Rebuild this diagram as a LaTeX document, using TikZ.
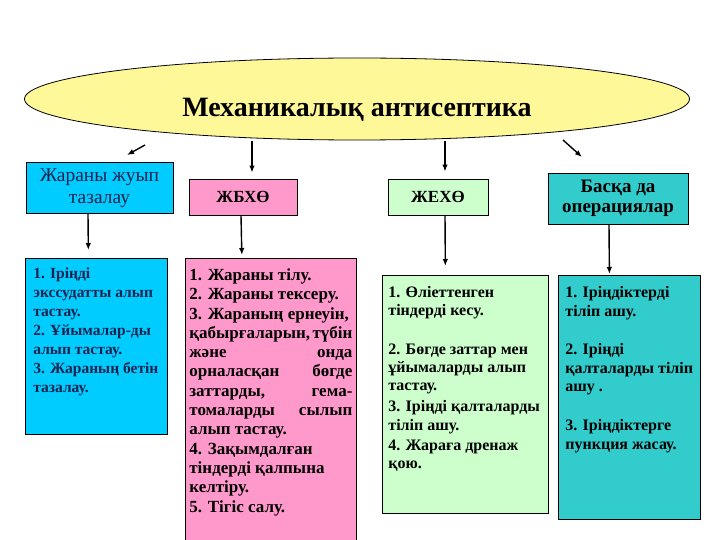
\documentclass[tikz,border=0pt]{standalone}
\usepackage{fontspec}
\setmainfont{Liberation Serif}
\usetikzlibrary{arrows.meta,shapes.geometric}
\definecolor{Oval}{RGB}{255,248,153}
\definecolor{Sky}{RGB}{0,204,255}
\definecolor{Rose}{RGB}{255,153,204}
\definecolor{Mint}{RGB}{204,255,204}
\definecolor{Teal}{RGB}{51,204,204}
\definecolor{Navy}{RGB}{25,35,80}
\newcommand{\boxlines}[3]{\parbox[t][#1][t]{#2}{#3}}
\tikzset{
  titleoval/.style={ellipse,draw,fill=Oval,line width=0.8pt,minimum width=665pt,minimum height=82pt,inner sep=0pt,font=\fontsize{28}{32}\selectfont\bfseries,text height=36pt,text depth=0pt},
  headbox/.style={draw,line width=0.8pt,align=center,inner sep=0pt,font=\fontsize{17}{20}\selectfont\bfseries},
  listbox/.style={draw,line width=0.8pt,anchor=north west,inner xsep=8pt,inner ysep=0pt,font=\fontsize{16}{18.3}\selectfont\bfseries},
  flow/.style={-{Latex[length=7pt,width=5.5pt]},line width=1.4pt}
}
\begin{document}
\begin{tikzpicture}[x=1pt,y=-1pt]
\useasboundingbox (0,0) rectangle (720,540);
\clip (0,0) rectangle (720,540);
% title
\node[titleoval] (title) at (357,99) {Механикалық антисептика};
% top row
\node[headbox,fill=Sky,text=Navy,minimum width=147pt,minimum height=51pt,font=\fontsize{19.5}{22}\selectfont] (wash) at (99.5,188) {Жараны жуып\\тазалау};
\node[headbox,fill=Rose,minimum width=108pt,minimum height=36pt] (bfx) at (243,197) {ЖБХӨ};
\node[headbox,fill=Mint,minimum width=100pt,minimum height=36pt] (ebx) at (438,197) {ЖЕХӨ};
\node[headbox,fill=Teal,minimum width=140pt,minimum height=51pt,font=\fontsize{19}{20}\selectfont\bfseries] (other) at (618,198.5) {Басқа да\\операциялар};
% lists
\node[listbox,fill=Sky,text=Navy,font=\fontsize{15.5}{19}\selectfont\bfseries] (washlist) at (25,258) {\boxlines{176pt}{126pt}{\rule{0pt}{20pt}1. Іріңді\\
экссудатты алып\\
тастау.\\
2. Ұйымалар-ды\\
алып тастау.\\
3. Жараның бетін\\
тазалау.}};
\node[listbox,fill=Rose,inner xsep=4pt,font=\fontsize{17}{19.3}\selectfont\bfseries] (bfxlist) at (185,258) {\boxlines{300pt}{163pt}{\rule{0pt}{22pt}1. Жараны тілу.\\
2. Жараны тексеру.\\
3. Жараның ернеуін,\\
қабырғаларын,\hfill түбін\\
және\hfill онда\\
орналасқан\hfill бөгде\\
заттарды,\hfill гема-\\
томаларды\hfill сылып\\
алып тастау.\\
4. Зақымдалған\\
тіндерді қалпына\\
келтіру.\\
5. Тігіс салу.}};
\node[listbox,fill=Mint,inner xsep=6pt] (ebxlist) at (382,275) {\boxlines{238pt}{154pt}{\rule{0pt}{22pt}1. Өліеттенген\\
тіндерді кесу.\\[20pt]
2. Бөгде заттар мен\\
ұйымаларды алып\\
тастау.\\[3pt]
3. Іріңді қалталарды\\
тіліп ашу.\\[2pt]
4. Жараға дренаж\\
қою.}};
\node[listbox,fill=Teal,inner xsep=7pt,font=\fontsize{16}{18.6}\selectfont\bfseries] (otherlist) at (558,275) {\boxlines{244pt}{128pt}{\rule{0pt}{22pt}1. Іріңдіктерді\\
тіліп ашу.\\[20pt]
2. Іріңді\\
қалталарды тіліп\\
ашу .\\[20pt]
3. Іріңдіктерге\\
пункция жасау.}};
% arrows
\coordinate (from1) at (145,145); \coordinate (to1) at (127,155);
\coordinate (from2) at (252,141); \coordinate (from3) at (445,141);
\coordinate (from4) at (563,140); \coordinate (to4) at (582,157);
\draw[flow] (from1) -- (to1);
\draw[flow,shorten >=6pt] (from2) -- (from2 |- bfx.north);
\draw[flow,shorten >=7pt] (from3) -- (from3 |- ebx.north);
\draw[flow] (from4) -- (to4);
\draw[flow,shorten >=8pt] ([xshift=-11.5pt]wash.south) -- ([xshift=-8pt]washlist.north);
\draw[flow,shorten >=3pt] ([xshift=-2pt]bfx.south) -- ([xshift=-29pt]bfxlist.north);
\draw[flow,shorten >=9pt] ([xshift=7pt]ebx.south) -- ([xshift=-20pt]ebxlist.north);
\draw[flow,shorten >=1pt] ([xshift=-9pt]other.south) -- ([xshift=-20pt]otherlist.north);
\end{tikzpicture}
\end{document}
